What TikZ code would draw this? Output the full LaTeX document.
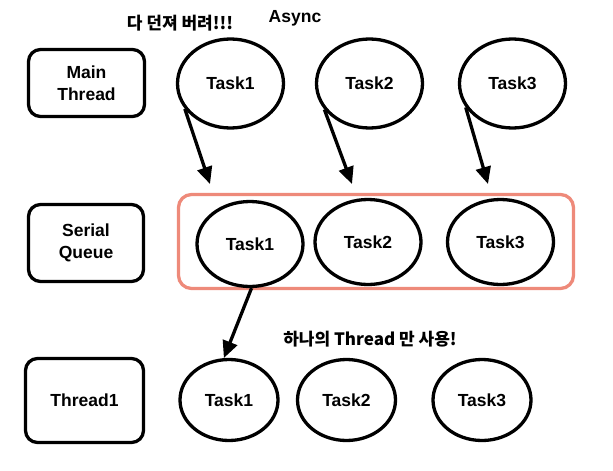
\documentclass[tikz,border=0pt]{standalone}
\usepackage{fontspec}
\setmainfont{Liberation Sans}
\newfontfamily\kr{Noto Sans CJK KR}
\usetikzlibrary{shapes.geometric,arrows.meta}
\definecolor{salmon}{RGB}{238,138,122}
\begin{document}
\begin{tikzpicture}[x=1pt,y=-1pt,
  every node/.style={font=\fontsize{17.5}{22.5}\selectfont\bfseries},
  lbl/.style={draw=black,line width=3.3pt,rounded corners=12pt,align=center,inner sep=0pt},
  task/.style={draw=black,line width=3.3pt,ellipse,inner sep=0pt},
  ttop/.style={task,minimum width=106pt,minimum height=89pt},
  tmid/.style={task,minimum width=106pt,minimum height=85pt},
  tbot/.style={task,minimum width=98pt,minimum height=81pt},
  arr/.style={line width=3.3pt,-{Triangle[length=17pt,width=15pt]}},
  note/.style={font=\fontsize{17}{20}\selectfont\kr\bfseries}]
\useasboundingbox (0,0) rectangle (613,471);
% container
\node[draw=salmon,line width=3.3pt,rounded corners=13pt,minimum width=395pt,minimum height=94pt,inner sep=0pt] (sq) at (376,241.5) {};
% left labels
\node[lbl,minimum width=116pt,minimum height=67pt] (main) at (86.5,83) {Main\\Thread};
\node[lbl,minimum width=115pt,minimum height=77pt] (serial) at (86,243) {Serial\\Queue};
\node[lbl,minimum width=118pt,minimum height=84pt] (thr) at (84.5,400.5) {Thread1};
% top tasks
\node[ttop] (t1) at (230.5,83.5) {Task1};
\node[ttop] (t2) at (369.5,83.5) {Task2};
\node[ttop] (t3) at (512.5,83.5) {Task3};
% middle tasks
\node[tmid] (m1) at (250,244) {Task1};
\node[tmid] (m2) at (368,242) {Task2};
\node[tmid] (m3) at (500.5,242) {Task3};
% bottom tasks
\node[tbot] (b1) at (229,400) {Task1};
\node[tbot] (b2) at (346.5,400) {Task2};
\node[tbot] (b3) at (482,400) {Task3};
% labels
\node (async) at (295,18) {Async};
\node[note] (throw) at (180,23) {다 던져 버려!!!};
\node[note] (one) at (370,339) {하나의 Thread 만 사용!};
% arrow ends
\coordinate (e1) at (210,184);
\coordinate (e2) at (352,184);
\coordinate (e3) at (488,184);
\draw[arr] (t1.209) -- (e1);
\draw[arr] (t2.210) -- (e2);
\draw[arr] (t3.207) -- (e3);
\draw[arr] (m1.272) -- (b1.97);
\end{tikzpicture}
\end{document}
